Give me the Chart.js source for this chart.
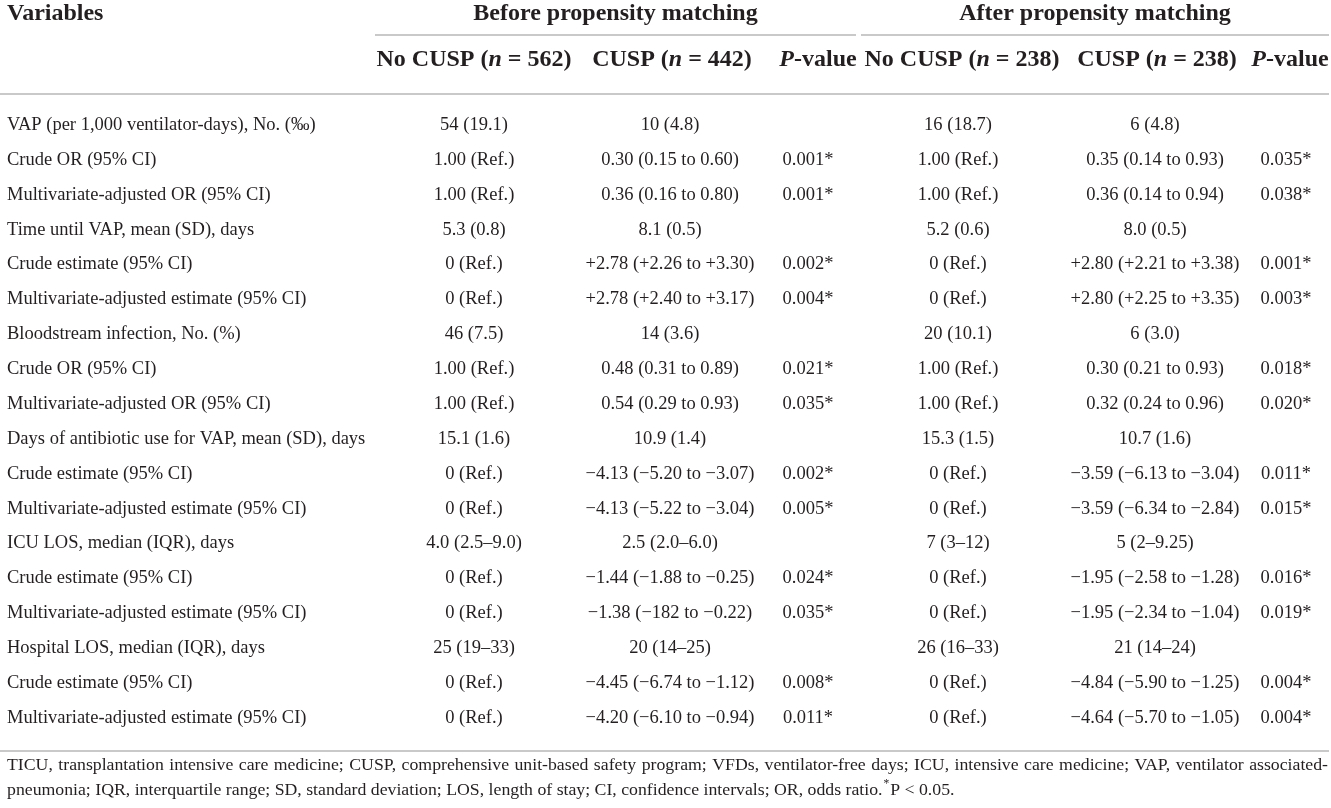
<!DOCTYPE html>
<html>
<head>
<meta charset="utf-8">
<script src="https://cdn.jsdelivr.net/npm/chart.js@4.4.1/dist/chart.umd.min.js"></script>
<style>
  html, body { margin: 0; padding: 0; background: #fff; }
  #wrap { width: 1331px; height: 808px; position: relative; }
</style>
</head>
<body>
<div id="wrap"><canvas id="tableChart"></canvas></div>
<script>
// table content, one array per column
const variables = [
  'VAP (per 1,000 ventilator-days), No. (‰)',
  'Crude OR (95% CI)',
  'Multivariate-adjusted OR (95% CI)',
  'Time until VAP, mean (SD), days',
  'Crude estimate (95% CI)',
  'Multivariate-adjusted estimate (95% CI)',
  'Bloodstream infection, No. (%)',
  'Crude OR (95% CI)',
  'Multivariate-adjusted OR (95% CI)',
  'Days of antibiotic use for VAP, mean (SD), days',
  'Crude estimate (95% CI)',
  'Multivariate-adjusted estimate (95% CI)',
  'ICU LOS, median (IQR), days',
  'Crude estimate (95% CI)',
  'Multivariate-adjusted estimate (95% CI)',
  'Hospital LOS, median (IQR), days',
  'Crude estimate (95% CI)',
  'Multivariate-adjusted estimate (95% CI)'
];
const noCuspBefore = [
  '54 (19.1)', '1.00 (Ref.)', '1.00 (Ref.)', '5.3 (0.8)', '0 (Ref.)', '0 (Ref.)',
  '46 (7.5)', '1.00 (Ref.)', '1.00 (Ref.)', '15.1 (1.6)', '0 (Ref.)', '0 (Ref.)',
  '4.0 (2.5–9.0)', '0 (Ref.)', '0 (Ref.)', '25 (19–33)', '0 (Ref.)', '0 (Ref.)'
];
const cuspBefore = [
  '10 (4.8)', '0.30 (0.15 to 0.60)', '0.36 (0.16 to 0.80)', '8.1 (0.5)',
  '+2.78 (+2.26 to +3.30)', '+2.78 (+2.40 to +3.17)',
  '14 (3.6)', '0.48 (0.31 to 0.89)', '0.54 (0.29 to 0.93)', '10.9 (1.4)',
  '−4.13 (−5.20 to −3.07)', '−4.13 (−5.22 to −3.04)',
  '2.5 (2.0–6.0)', '−1.44 (−1.88 to −0.25)', '−1.38 (−182 to −0.22)',
  '20 (14–25)', '−4.45 (−6.74 to −1.12)', '−4.20 (−6.10 to −0.94)'
];
const pBefore = [
  '', '0.001*', '0.001*', '', '0.002*', '0.004*',
  '', '0.021*', '0.035*', '', '0.002*', '0.005*',
  '', '0.024*', '0.035*', '', '0.008*', '0.011*'
];
const noCuspAfter = [
  '16 (18.7)', '1.00 (Ref.)', '1.00 (Ref.)', '5.2 (0.6)', '0 (Ref.)', '0 (Ref.)',
  '20 (10.1)', '1.00 (Ref.)', '1.00 (Ref.)', '15.3 (1.5)', '0 (Ref.)', '0 (Ref.)',
  '7 (3–12)', '0 (Ref.)', '0 (Ref.)', '26 (16–33)', '0 (Ref.)', '0 (Ref.)'
];
const cuspAfter = [
  '6 (4.8)', '0.35 (0.14 to 0.93)', '0.36 (0.14 to 0.94)', '8.0 (0.5)',
  '+2.80 (+2.21 to +3.38)', '+2.80 (+2.25 to +3.35)',
  '6 (3.0)', '0.30 (0.21 to 0.93)', '0.32 (0.24 to 0.96)', '10.7 (1.6)',
  '−3.59 (−6.13 to −3.04)', '−3.59 (−6.34 to −2.84)',
  '5 (2–9.25)', '−1.95 (−2.58 to −1.28)', '−1.95 (−2.34 to −1.04)',
  '21 (14–24)', '−4.84 (−5.90 to −1.25)', '−4.64 (−5.70 to −1.05)'
];
const pAfter = [
  '', '0.035*', '0.038*', '', '0.001*', '0.003*',
  '', '0.018*', '0.020*', '', '0.011*', '0.015*',
  '', '0.016*', '0.019*', '', '0.004*', '0.004*'
];

const groupHeaders = ['Before propensity matching', 'After propensity matching'];
// header runs: [text, italic]
const columnHeaders = [
  [['Variables', false]],
  [['No CUSP (', false], ['n', true], [' = 562)', false]],
  [['CUSP (', false], ['n', true], [' = 442)', false]],
  [['P', true], ['-value', false]],
  [['No CUSP (', false], ['n', true], [' = 238)', false]],
  [['CUSP (', false], ['n', true], [' = 238)', false]],
  [['P', true], ['-value', false]]
];
const footnoteLines = [
  'TICU, transplantation intensive care medicine; CUSP, comprehensive unit-based safety program; VFDs, ventilator-free days; ICU, intensive care medicine; VAP, ventilator associated-',
  'pneumonia; IQR, interquartile range; SD, standard deviation; LOS, length of stay; CI, confidence intervals; OR, odds ratio.'
];
const footnoteTail = ['*', 'P < 0.05.'];

const columns = [variables, noCuspBefore, cuspBefore, pBefore, noCuspAfter, cuspAfter, pAfter];

// layout
const W = 1331;
const COL_X = [7, 474, 670, 808, 958, 1155, 1286];
const HEAD_X = [7, 474, 672, 818, 962, 1157, 1290];
const GROUP_LINES = [[375, 856], [861, 1329]];
const FONT = '"Liberation Serif", "Times New Roman", serif';
const BODY_SIZE = 18.5;
const HEAD_SIZE = 24;
const INK = '#231f20';
const RULE = '#c9c9c9';

function drawRuns(ctx, runs, x, y, align, size) {
  const fonts = runs.map(([, it]) => `${it ? 'italic ' : ''}bold ${size}px ${FONT}`);
  let total = 0;
  const widths = runs.map(([t], k) => { ctx.font = fonts[k]; const w = ctx.measureText(t).width; total += w; return w; });
  let cx = align === 'center' ? x - total / 2 : x;
  ctx.textAlign = 'left';
  runs.forEach(([t], k) => { ctx.font = fonts[k]; ctx.fillText(t, cx, y); cx += widths[k]; });
}

function rule(ctx, x0, x1, y) {
  ctx.beginPath();
  ctx.moveTo(x0, y);
  ctx.lineTo(x1, y);
  ctx.stroke();
}

const tablePlugin = {
  id: 'tableText',
  afterDatasetsDraw(chart) {
    const { ctx, chartArea } = chart;
    ctx.save();
    ctx.fillStyle = INK;
    ctx.textBaseline = 'middle';

    // body cells, placed at the points of each dataset
    chart.data.datasets.forEach((ds, c) => {
      const meta = chart.getDatasetMeta(c);
      ctx.font = `${BODY_SIZE}px ${FONT}`;
      ctx.textAlign = c === 0 ? 'left' : 'center';
      meta.data.forEach((pt, i) => {
        const txt = columns[c][i];
        if (txt) ctx.fillText(txt, pt.x, pt.y);
      });
    });

    // headers
    const top = chartArea.top;
    drawRuns(ctx, columnHeaders[0], HEAD_X[0], top - 111, 'left', HEAD_SIZE);
    groupHeaders.forEach((g, k) => {
      const [a, b] = GROUP_LINES[k];
      drawRuns(ctx, [[g, false]], (a + b) / 2, top - 111, 'center', HEAD_SIZE);
    });
    for (let c = 1; c < columnHeaders.length; c++) {
      drawRuns(ctx, columnHeaders[c], HEAD_X[c], top - 65, 'center', HEAD_SIZE);
    }

    // rules
    ctx.strokeStyle = RULE;
    ctx.lineWidth = 2;
    GROUP_LINES.forEach(([a, b]) => rule(ctx, a, b, top - 90));
    rule(ctx, 0, 1329, top - 31);
    rule(ctx, 0, 1329, chartArea.bottom + 33);

    // footnote, first line justified
    const left = 7, right = 1328;
    let fs = 18;
    ctx.font = `${fs}px ${FONT}`;
    while (ctx.measureText(footnoteLines[0]).width > right - left - 4 && fs > 10) {
      fs -= 0.25;
      ctx.font = `${fs}px ${FONT}`;
    }
    ctx.textAlign = 'left';
    const words = footnoteLines[0].split(' ');
    const wordW = words.map(w => ctx.measureText(w).width);
    const gap = (right - left - wordW.reduce((a, b) => a + b, 0)) / (words.length - 1);
    let fx = left;
    const y1 = chartArea.bottom + 47;
    words.forEach((w, k) => { ctx.fillText(w, fx, y1); fx += wordW[k] + gap; });

    const y2 = y1 + 25;
    ctx.fillText(footnoteLines[1], left, y2);
    let tx = left + ctx.measureText(footnoteLines[1]).width + 1;
    ctx.font = `${fs * 0.65}px ${FONT}`;
    ctx.fillText(footnoteTail[0], tx, y2 - 6);
    tx += ctx.measureText(footnoteTail[0]).width + 1;
    ctx.font = `${fs}px ${FONT}`;
    ctx.fillText(footnoteTail[1], tx, y2);
    ctx.restore();
  }
};

const ctx = document.getElementById('tableChart');
new Chart(ctx, {
  type: 'scatter',
  data: {
    datasets: columns.map((col, c) => ({
      label: 'col' + c,
      data: col.map((v, i) => ({ x: COL_X[c], y: i })),
      pointRadius: 0,
      pointHoverRadius: 0
    }))
  },
  options: {
    responsive: true,
    maintainAspectRatio: false,
    animation: false,
    events: [],
    layout: { padding: { top: 125, bottom: 90, left: 0, right: 0 } },
    plugins: { legend: { display: false }, tooltip: { enabled: false } },
    scales: {
      x: { type: 'linear', min: 0, max: W, display: false },
      y: { type: 'linear', min: 0, max: variables.length - 1, reverse: true, display: false }
    }
  },
  plugins: [tablePlugin]
});
</script>
</body>
</html>
